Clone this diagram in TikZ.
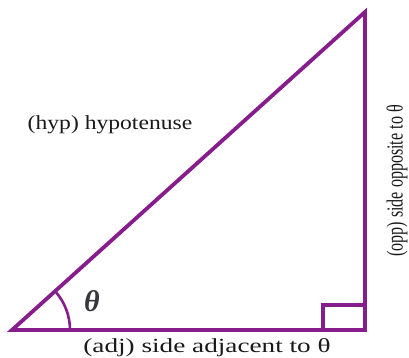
\documentclass[tikz,border=0pt]{standalone}
\usepackage{fontspec}
\setmainfont{Liberation Serif}
\usetikzlibrary{calc,positioning}
\definecolor{trigpurple}{RGB}{135,28,140}
\definecolor{anglegray}{RGB}{55,55,60}
\tikzset{
  side/.style={draw=trigpurple, line width=3.8pt, line join=miter},
  rightbox/.style={draw=trigpurple, line width=3.4pt},
  anglearc/.style={draw=trigpurple, line width=2.6pt},
  lbl/.style={font=\fontsize{20}{24}\selectfont, inner sep=0pt, text=black!90},
  ang/.style={font=\fontsize{30}{34}\selectfont\bfseries\itshape, inner sep=0pt, text=anglegray},
}
\begin{document}
\begin{tikzpicture}[x=1pt,y=-1pt]
  \useasboundingbox (0,0) rectangle (409,358);
  % vertices
  \coordinate (A) at (12,330);
  \coordinate (B) at (365,330);
  \coordinate (C) at (365,12);
  \draw[side] (A) -- (B) -- (C) -- cycle;
  % right angle mark
  \coordinate (Rb) at (323,330);
  \coordinate (Rt) at (323,305);
  \draw[rightbox] (Rb) -- (Rt) -- (Rt -| B);
  % angle theta
  \draw[anglearc] ($(A)+(58,0)$) arc[start angle=0, end angle=42, radius=58pt];
  \node[ang] (theta) at (92,301) {θ};
  % labels
  \node[lbl, xscale=1.18] (hyp) at (110,125) {(hyp) hypotenuse};
  \node[lbl, xscale=1.36] (adj) at (207,348) {(adj) side adjacent to θ};
  \node[lbl, font=\fontsize{23}{26}\selectfont, rotate=90, xscale=0.7] (opp) at (397,181) {(opp) side opposite to θ};
\end{tikzpicture}
\end{document}
